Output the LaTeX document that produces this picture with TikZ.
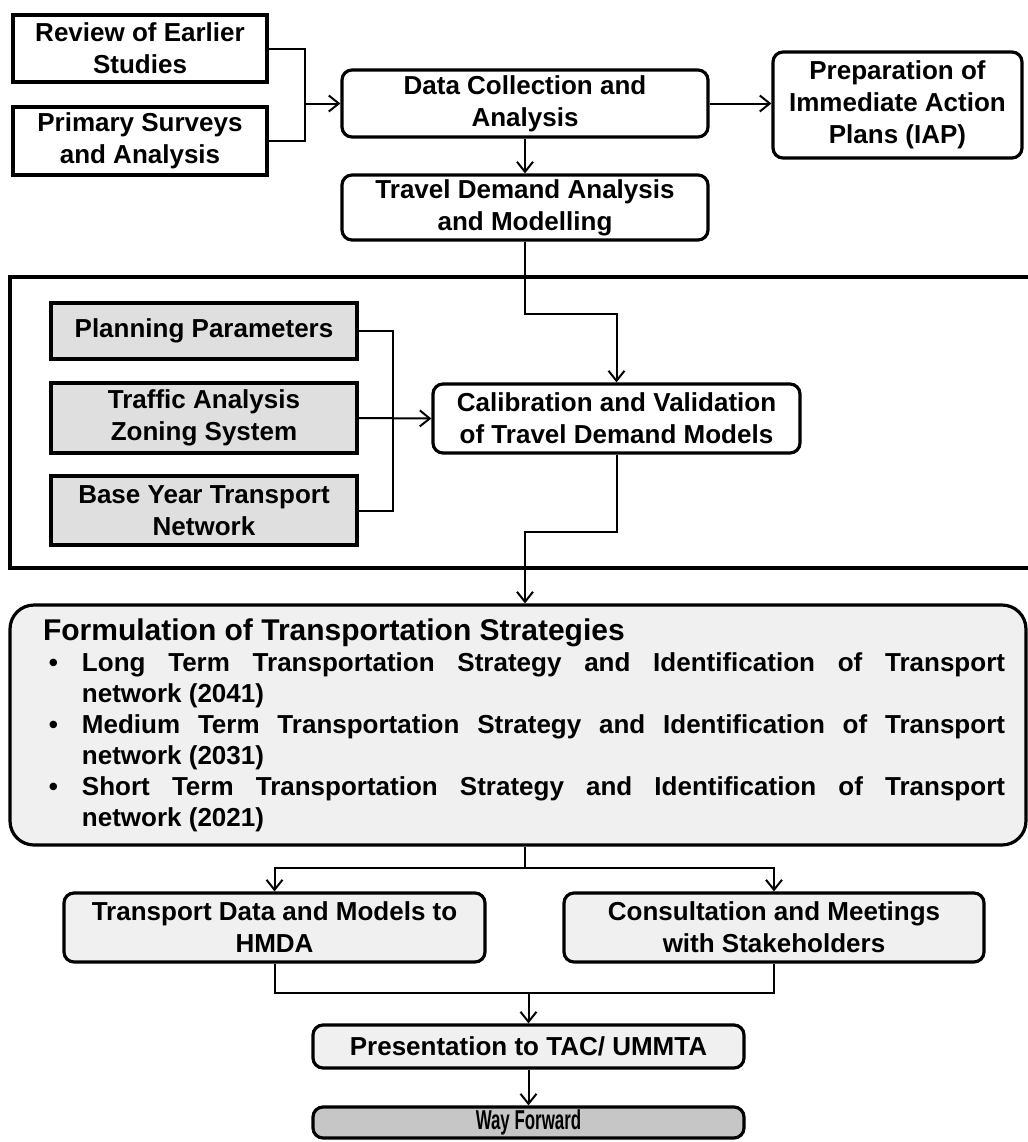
\documentclass[tikz,border=0pt]{standalone}
\usepackage{fontspec}
\usepackage{graphicx}
\setmainfont{Liberation Sans}
\usetikzlibrary{arrows.meta}

\newcommand{\stratitem}[2]{\par\hangindent=19.5pt\hangafter=1\noindent
  \makebox[19.5pt][l]{\hspace{3pt}\textbullet}#1 Term Transportation Strategy and Identification of Transport\linebreak
  network (#2)\par}

\tikzset{
  box/.style={draw, line width=1.6pt, fill=white, align=center, inner sep=2pt,
    font=\bfseries\fontsize{13}{16}\selectfont},
  sqbox/.style={box},
  rbox/.style={box, rounded corners=5pt},
  inbox/.style={box, line width=2pt, fill=gray!25},
  outbox/.style={rbox, fill=gray!12},
  link/.style={line width=1pt},
  flow/.style={line width=1pt, -{Straight Barb[length=5pt,width=8pt]}},
}

\begin{document}
\begin{tikzpicture}[x=0.5pt,y=-0.5pt]
\useasboundingbox (0,0) rectangle (1028,1142);

% Top row of boxes
\node[sqbox, minimum width=127pt, minimum height=33.5pt] (review) at (140,48.5) {Review of Earlier\\Studies};
\node[sqbox, minimum width=127pt, minimum height=34pt] (primary) at (140,141) {Primary Surveys\\and Analysis};
\node[rbox, minimum width=183pt, minimum height=33.5pt] (data) at (525,103.5) {Data Collection and\\Analysis};
\node[rbox, minimum width=124.5pt, minimum height=53pt] (iap) at (897.5,105) {Preparation of\\Immediate Action\\Plans (IAP)};
\node[rbox, minimum width=183pt, minimum height=32.5pt] (travel) at (525,207.5) {Travel Demand Analysis\\and Modelling};

% Model frame
\draw [line width=1.8pt] (1028,277) -- (10,277) -- (10,568) -- (1028,568);

% Inputs to the model
\node[inbox, minimum width=153pt, minimum height=28pt] (planning) at (204,331) {Planning Parameters};
\node[inbox, minimum width=153pt, minimum height=35pt] (zoning) at (204,418) {Traffic Analysis\\Zoning System};
\node[inbox, minimum width=153pt, minimum height=34.5pt] (network) at (204,510.5) {Base Year Transport\\Network};
\node[rbox, minimum width=183.5pt, minimum height=34.5pt] (calib) at (616.5,418.5) {Calibration and Validation\\of Travel Demand Models};

% Strategies
\node[outbox, rounded corners=12pt, minimum width=508pt, minimum height=120pt,
  text width=487pt, align=justify, font=\bfseries\fontsize{13}{15.5}\selectfont] (strategies) at (518,725)
  {\leftskip=6pt
   {\fontsize{15}{18}\selectfont Formulation of Transportation Strategies\par}
   \stratitem{Long}{2041}
   \stratitem{Medium}{2031}
   \stratitem{Short}{2021}};

% Bottom rows
\node[outbox, minimum width=210.5pt, minimum height=34.5pt] (hmda) at (274.5,927.5) {Transport Data and Models to\\HMDA};
\node[outbox, minimum width=210pt, minimum height=34.5pt] (stake) at (774,927.5) {Consultation and Meetings\\with Stakeholders};
\node[outbox, minimum width=215.5pt, minimum height=21.5pt] (tac) at (528.5,1046.5) {Presentation to TAC/ UMMTA};
\node[outbox, fill=gray!45, inner sep=1pt, minimum width=215.5pt, minimum height=15.5pt] (way) at (528.5,1122.5) {\scalebox{0.65}[1.05]{Way Forward}};

% Junction points
\coordinate (surveys) at (305,103.5);
\coordinate (inputs) at (393,418);
\coordinate (calibout) at (525,532);
\coordinate (fork) at (525,868);
\coordinate (merge) at (528.5,993);

% Connections at the top
\draw [link] (review.east) -| (surveys) |- (primary.east);
\draw [flow] (surveys) -- (data.west);
\draw [flow] (data.east) -- (data.east -| iap.west);
\draw [flow] (data.south) -- (travel.north);
\draw [flow] (travel.south) -- ++(0,72) -| (calib.north);

% Connections in the frame
\draw [link] (planning.east) -| (inputs) |- (network.east);
\draw [flow] (zoning.east) -- (calib.west);
\draw [flow] (calib.south) |- (calibout) -- (calibout |- strategies.north);

% Connections at the bottom
\draw [link] (fork |- strategies.south) -- (fork);
\draw [flow] (fork) -| (hmda.north);
\draw [flow] (fork) -| (stake.north);
\draw [link] (hmda.south) |- (merge) -| (stake.south);
\draw [flow] (merge) -- (tac.north);
\draw [flow] (tac.south) -- (way.north);

\end{tikzpicture}
\end{document}
